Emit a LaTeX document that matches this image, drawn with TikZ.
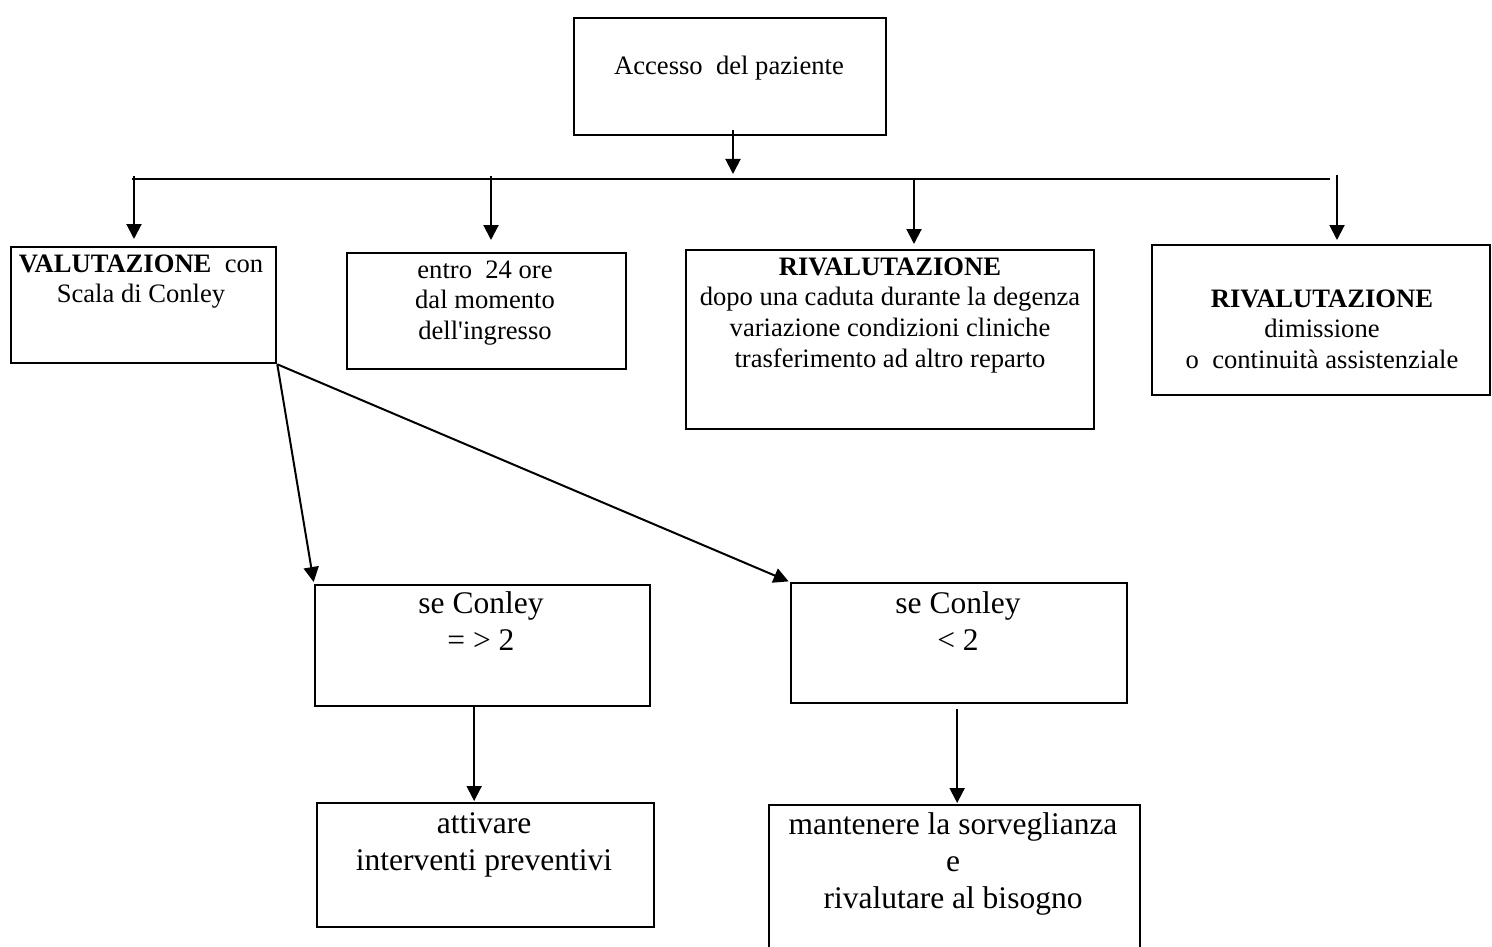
\documentclass[tikz,border=0pt]{standalone}
\usepackage{fontspec}
\setmainfont{Liberation Serif}[Ligatures=TeXOff]
\usetikzlibrary{arrows.meta}
\newcommand{\mlines}[1]{\begin{tabular}[t]{@{}c@{}}#1\end{tabular}}
\begin{document}
\begin{tikzpicture}[x=1pt,y=-1pt,
  box/.style={draw, line width=2.3pt, inner sep=0pt, anchor=north west},
  txt/.style={anchor=base, inner sep=0pt, font=\fontsize{26.6}{30.8}\selectfont},
  big/.style={anchor=base, inner sep=0pt, font=\fontsize{31.5}{37}\selectfont},
  arr/.style={line width=2pt, -{Triangle[length=15pt,width=15pt]}},
  ln/.style={line width=2pt}]
\clip (0,0) rectangle (1492,947);
\fill[white] (0,0) rectangle (1492,947);
% boxes
\node[box, minimum width=312pt, minimum height=117pt] (acc) at (573,17) {};
\node[box, minimum width=265pt, minimum height=116pt] (val) at (10,246) {};
\node[box, minimum width=279pt, minimum height=116pt] (entro) at (346,252) {};
\node[box, minimum width=408pt, minimum height=179pt] (riv1) at (685,249) {};
\node[box, minimum width=338pt, minimum height=150pt] (riv2) at (1151,244) {};
\node[box, minimum width=335pt, minimum height=121pt] (ge) at (314,584) {};
\node[box, minimum width=336pt, minimum height=120pt] (lt) at (790,582) {};
\node[box, minimum width=337pt, minimum height=124pt] (att) at (316,802) {};
\node[box, minimum width=371pt, minimum height=170pt] (man) at (768,804) {};
% texts
\node[txt] (tacc) at (729,75) {Accesso\ \ del paziente};
\node[txt] (tval) at (141,272) {\mlines{\textbf{VALUTAZIONE}\ \ con\\Scala di Conley}};
\node[txt] (tentro) at (485,278) {\mlines{entro\ \ 24 ore\\dal momento\\dell'ingresso}};
\node[txt] (triv1) at (890,275) {\mlines{\textbf{RIVALUTAZIONE}\\dopo una caduta durante la degenza\\variazione condizioni cliniche\\trasferimento ad altro reparto}};
\node[txt] (triv2) at (1322,307) {\mlines{\textbf{RIVALUTAZIONE}\\dimissione\\o\ \ continuità assistenziale}};
\node[big] (tge) at (481,613) {\mlines{se Conley\\= > 2}};
\node[big] (tlt) at (958,613) {\mlines{se Conley\\< 2}};
\node[big] (tatt) at (484,833) {\mlines{attivare\\interventi preventivi}};
\node[big] (tman) at (953,834) {\mlines{mantenere la sorveglianza\\e\\rivalutare al bisogno}};
% bus
\coordinate (a0) at (733,130);
\coordinate (bL) at (132,179);
\coordinate (bR) at (1330,179);
\coordinate (b1) at (134,176);
\coordinate (b2) at (491,176);
\coordinate (b3) at (914,179);
\coordinate (b4) at (1337,175);
\draw[ln] (bL) -- (bR);
\draw[arr, shorten >=5pt] (a0) -- (a0 |- bL);
\draw[arr, shorten >=7pt] (b1) -- (b1 |- val.north);
\draw[arr, shorten >=12pt] (b2) -- (b2 |- entro.north);
\draw[arr, shorten >=5pt] (b3) -- (b3 |- riv1.north);
\draw[arr, shorten >=4pt] (b4) -- (b4 |- riv2.north);
% diagonals
\draw[arr, shorten >=2pt] (val.south east) -- (ge.north west);
\draw[arr, shorten >=1.5pt] (val.south east) -- (lt.north west);
% lower arrows
\draw[arr, shorten >=1pt] ([xshift=-8.5pt]ge.south) -- ([xshift=-11.5pt]att.north);
\draw[arr, shorten <=5pt, shorten >=1pt] ([xshift=-2pt]lt.south) -- ([xshift=2.5pt]man.north);
\end{tikzpicture}
\end{document}
